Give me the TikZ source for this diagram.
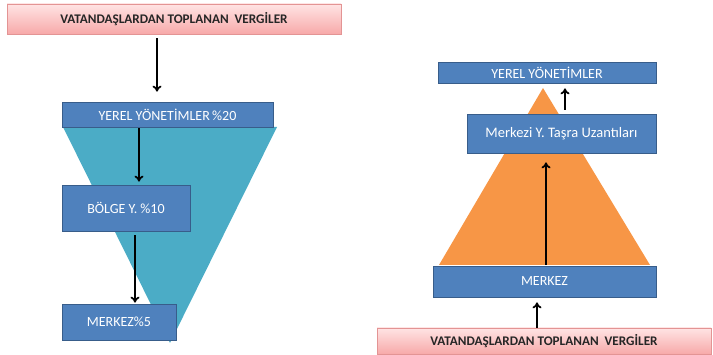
\documentclass[tikz,border=0pt]{standalone}
\usepackage{fontspec}
\setmainfont{Carlito}
\usetikzlibrary{arrows.meta}

\definecolor{boxblue}{HTML}{4F81BD}
\definecolor{boxline}{HTML}{385D8A}
\definecolor{funnelteal}{HTML}{4BACC6}
\definecolor{pyramidorange}{HTML}{F79646}
\definecolor{pinktop}{HTML}{FFE4E4}
\definecolor{pinkbottom}{HTML}{F7A9A9}
\definecolor{pinkline}{HTML}{E39494}
\definecolor{darktext}{HTML}{262626}

\tikzset{
  bluebox/.style={draw=boxline, fill=boxblue, text=white, line width=0.8pt, inner sep=0pt, font=\fontsize{14}{16}\selectfont},
  pinkbox/.style={draw=pinkline, top color=pinktop, bottom color=pinkbottom, text=darktext, line width=0.6pt, inner sep=0pt, font=\fontsize{13.2}{15}\selectfont\bfseries},
  flow/.style={-{To[length=6pt,width=9pt]}, line width=1.8pt}
}

\begin{document}
\begin{tikzpicture}[x=1pt,y=-1pt]
\useasboundingbox (0,0) rectangle (713,355);
\fill[funnelteal] (63,127) -- (277,127) -- (170,343) -- cycle; % funnel
\fill[pyramidorange] (543,88) -- (650,265) -- (439,265) -- cycle; % pyramid

\node[pinkbox, minimum width=334pt, minimum height=30pt] (vergiL) at (174,19) {VATANDAŞLARDAN TOPLANAN \ VERGİLER}; % left source
\node[bluebox, minimum width=211pt, minimum height=25pt] (yerelL) at (167.5,114.5) {YEREL YÖNETİMLER\,\%20};
\node[bluebox, minimum width=128pt, minimum height=46pt] (bolgeL) at (126,208) {BÖLGE Y. \%10};
\node[bluebox, minimum width=114pt, minimum height=36pt] (merkezL) at (119,322) {MERKEZ\%5};

\node[bluebox, minimum width=218pt, minimum height=21pt] (yerelR) at (547,72.5) {YEREL YÖNETİMLER};
\node[bluebox, minimum width=189pt, minimum height=39pt, font=\fontsize{14.5}{16}\selectfont] (tasraR) at (561.5,133.5) {Merkezi Y. Taşra Uzantıları};
\node[bluebox, minimum width=223pt, minimum height=31pt] (merkezR) at (544.5,281.5) {MERKEZ};
\node[pinkbox, minimum width=334pt, minimum height=26pt] (vergiR) at (544,341) {VATANDAŞLARDAN TOPLANAN \ VERGİLER}; % right source

% left: top down
\draw[flow, shorten <=4pt, shorten >=10pt] ([xshift=-17pt]vergiL.south) -- ([xshift=-10.5pt]yerelL.north);
\draw[flow, shorten <=1pt, shorten >=3pt] ([xshift=-28.5pt]yerelL.south) -- ([xshift=13pt]bolgeL.north);
\draw[flow, shorten <=4pt, shorten >=1pt] ([xshift=9pt]bolgeL.south) -- ([xshift=16pt]merkezL.north);

% right: bottom up
\draw[flow, shorten >=5pt] ([xshift=-7pt]vergiR.north) -- ([xshift=-7.5pt]merkezR.south);
\draw[flow, shorten <=1pt, shorten >=9pt] ([xshift=1.5pt]merkezR.north) -- ([xshift=-15.5pt]tasraR.south);
\draw[flow, shorten <=4pt, shorten >=5pt] ([xshift=3.5pt]tasraR.north) -- ([xshift=18pt]yerelR.south);
\end{tikzpicture}
\end{document}
